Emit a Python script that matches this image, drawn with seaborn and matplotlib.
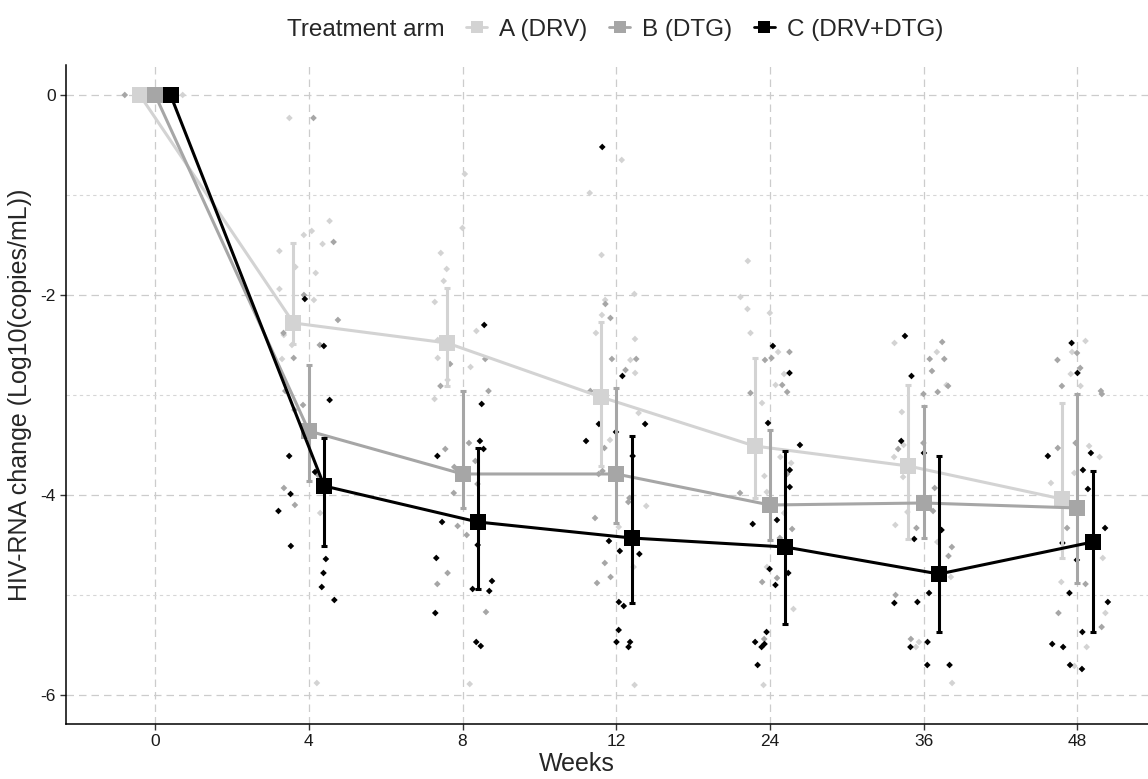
import numpy as np
import pandas as pd
import matplotlib
matplotlib.use("Agg")
import matplotlib.pyplot as plt
from matplotlib.lines import Line2D
from matplotlib.ticker import MultipleLocator
import seaborn as sns

# Datos
weeks = ["0", "4", "8", "12", "24", "36", "48"]
arms = ["A (DRV)", "B (DTG)", "C (DRV+DTG)"]
colores = ["#d3d3d3", "#a6a6a6", "#000000"]

# medias por semana
mean_A = [0, -2.28, -2.48, -3.02, -3.51, -3.71, -4.04]
mean_B = [0, -3.36, -3.79, -3.79, -4.10, -4.08, -4.13]
mean_C = [0, -3.91, -4.27, -4.43, -4.52, -4.79, -4.47]

# limites de las barras de error
lo_A = [0, -2.49, -2.91, -3.71, -4.03, -4.44, -4.63]
hi_A = [0, -1.48, -1.93, -2.27, -2.63, -2.90, -3.08]
lo_B = [0, -3.86, -4.13, -4.28, -4.45, -4.43, -4.88]
hi_B = [0, -2.70, -2.96, -2.93, -3.35, -3.11, -2.99]
lo_C = [0, -4.51, -4.94, -5.08, -5.29, -5.37, -5.37]
hi_C = [0, -3.43, -3.53, -3.41, -3.56, -3.61, -3.76]

# valores individuales (una lista por semana)
pts_A = [
    [0, 0, 0],
    [-0.23, -1.26, -1.36, -1.40, -1.49, -1.56, -1.72, -1.78, -1.94, -2.05, -2.40, -2.50, -2.64, -4.18, -5.88],
    [-0.79, -1.33, -1.58, -1.74, -1.86, -2.07, -2.36, -2.45, -2.63, -2.72, -2.85, -3.04, -5.89],
    [-0.65, -0.98, -1.60, -1.99, -2.05, -2.20, -2.38, -2.44, -2.65, -2.78, -3.18, -3.45, -4.11, -4.32, -4.72, -5.90],
    [-1.66, -2.02, -2.14, -2.18, -2.38, -2.57, -2.79, -2.90, -3.08, -3.62, -3.68, -3.81, -3.97, -4.18, -4.72, -5.14, -5.90],
    [-2.48, -2.57, -2.90, -3.17, -3.50, -3.62, -3.82, -4.17, -4.30, -4.47, -4.82, -5.47, -5.52, -5.88],
    [-2.46, -2.57, -2.79, -2.91, -3.51, -3.62, -3.78, -3.88, -4.63, -4.87, -5.18, -5.52, -5.71],
]
pts_B = [
    [0, 0, 0],
    [-0.23, -1.47, -2.00, -2.25, -2.38, -2.50, -2.63, -2.96, -3.10, -3.15, -3.38, -3.80, -3.93, -4.10],
    [-2.64, -2.69, -2.91, -2.96, -3.48, -3.54, -3.66, -3.72, -3.89, -3.98, -4.31, -4.40, -4.78, -4.89, -5.17],
    [-2.09, -2.23, -2.64, -2.64, -2.75, -2.96, -3.53, -3.76, -3.79, -4.03, -4.07, -4.23, -4.43, -4.68, -4.82, -4.88],
    [-2.57, -2.63, -2.65, -2.90, -2.97, -2.98, -3.79, -3.98, -4.34, -4.43, -4.83, -4.87, -5.44],
    [-2.47, -2.64, -2.64, -2.76, -2.91, -2.97, -2.99, -3.48, -3.54, -3.93, -4.16, -4.33, -4.52, -4.61, -5.00, -5.44],
    [-2.58, -2.65, -2.73, -2.91, -2.96, -2.99, -3.48, -3.53, -4.33, -4.89, -5.18, -5.32],
]
pts_C = [
    [0, 0, 0],
    [-2.04, -2.51, -3.05, -3.61, -3.77, -3.99, -4.16, -4.51, -4.64, -4.78, -4.92, -5.05],
    [-2.30, -3.09, -3.46, -3.54, -3.61, -4.27, -4.50, -4.63, -4.86, -4.94, -4.96, -5.18, -5.47, -5.51],
    [-0.52, -2.81, -3.29, -3.29, -3.37, -3.46, -3.61, -4.46, -4.56, -4.59, -5.07, -5.11, -5.35, -5.47, -5.47, -5.52],
    [-2.51, -2.78, -3.28, -3.50, -3.75, -3.92, -4.25, -4.29, -4.74, -4.78, -4.90, -5.37, -5.47, -5.49, -5.52, -5.70],
    [-2.41, -2.81, -3.46, -3.58, -4.35, -4.44, -4.98, -5.07, -5.08, -5.47, -5.52, -5.70, -5.70],
    [-2.48, -2.78, -3.58, -3.61, -3.75, -3.94, -4.33, -4.48, -4.65, -4.98, -5.07, -5.37, -5.49, -5.52, -5.70, -5.74],
]

# tabla larga de puntos
filas = []
for arm, pts in zip(arms, [pts_A, pts_B, pts_C]):
    for w, vals in zip(weeks, pts):
        for v in vals:
            filas.append((w, arm, v))
datos = pd.DataFrame(filas, columns=["week", "arm", "change"])

resumen = pd.DataFrame({
    "week": weeks * 3,
    "arm": np.repeat(arms, len(weeks)),
    "mean": mean_A + mean_B + mean_C,
})

sns.set_style("white")
plt.rcParams["font.family"] = ["Liberation Sans", "DejaVu Sans"]
plt.rcParams["axes.unicode_minus"] = False

fig = plt.figure(figsize=(11.48, 7.79), dpi=100)
ax = fig.add_axes([0.0575, 0.0706, 0.9425, 0.846])

# puntos individuales con jitter
sns.stripplot(data=datos, x="week", y="change", hue="arm", order=weeks,
              hue_order=arms, palette=colores, jitter=0.2, dodge=False,
              marker="D", size=3.4, linewidth=0, legend=False, ax=ax, zorder=1)

# barras de error
offsets = [-0.1, 0.0, 0.1]
pos = np.arange(len(weeks))
for i, (col, m, lo, hi) in enumerate(zip(colores, [mean_A, mean_B, mean_C],
                                          [lo_A, lo_B, lo_C], [hi_A, hi_B, hi_C])):
    m = np.array(m)
    ax.errorbar(pos + offsets[i], m, yerr=[m - np.array(lo), np.array(hi) - m],
                fmt="none", ecolor=col, elinewidth=2.2, capsize=2.2,
                capthick=2.2, zorder=3 + i)

# medias con lineas
n_antes = len(ax.lines)
sns.pointplot(data=resumen, x="week", y="mean", hue="arm", order=weeks,
              hue_order=arms, palette=colores, dodge=0.2, markers="s",
              markersize=11, linewidth=2.2, errorbar=None, legend=False, ax=ax)
for i, ln in enumerate(ax.lines[n_antes:]):
    ln.set_zorder(3.5 + i)
    ln.set_markeredgewidth(0)

ax.set_xlim(-0.58, 6.46)
ax.set_ylim(-6.29, 0.30)
ax.yaxis.set_major_locator(MultipleLocator(2))
ax.yaxis.set_minor_locator(MultipleLocator(1))
ax.grid(which="major", axis="both", color="#cccccc", linestyle=(0, (6, 4)), linewidth=0.9)
ax.grid(which="minor", axis="y", color="#d6d6d6", linestyle=(0, (3, 3)), linewidth=0.8)
ax.set_axisbelow(True)
sns.despine(ax=ax)
for s in ["left", "bottom"]:
    ax.spines[s].set_color("black")
    ax.spines[s].set_linewidth(1.1)
ax.tick_params(which="major", length=4, width=1, color="#333333",
               labelsize=12.5, labelcolor="#1a1a1a", left=True, bottom=True)
ax.tick_params(which="minor", length=0)

ax.set_xlabel("Weeks", fontsize=18)
ax.set_ylabel("HIV-RNA change (Log10(copies/mL))", fontsize=18)
ax.xaxis.set_label_coords(0.472, -0.042)
ax.yaxis.set_label_coords(-0.031, 0.5)

# leyenda horizontal con titulo en linea
handles = [Line2D([], [], linestyle="none")] + [
    Line2D([], [], color=c, marker="s", markersize=8, linewidth=2, markeredgewidth=0)
    for c in colores]
labels = ["Treatment arm"] + arms
fig.legend(handles, labels, loc="upper center", bbox_to_anchor=(0.5215, 1.004),
           ncol=4, frameon=False, fontsize=17.5, handlelength=0.85,
           handletextpad=0.5, columnspacing=0.9)

plt.savefig("out.png", dpi=100)
